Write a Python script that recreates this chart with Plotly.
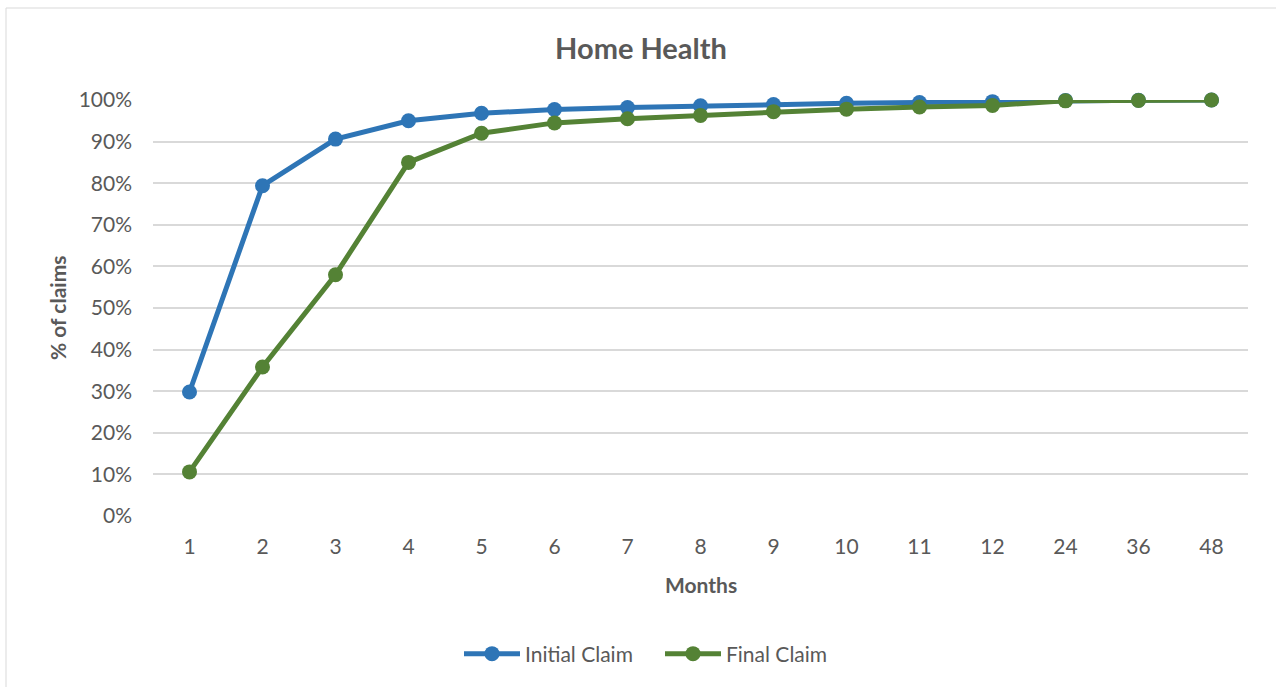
import plotly.graph_objects as go

# Months since service, shown as evenly spaced categories
months = ["1", "2", "3", "4", "5", "6", "7", "8", "9", "10", "11", "12", "24", "36", "48"]

# Cumulative share of claims processed (fraction of 1)
initial_claim = [0.298, 0.794, 0.906, 0.950, 0.968, 0.977, 0.982, 0.986, 0.989,
                 0.992, 0.994, 0.996, 0.999, 0.9995, 1.000]
final_claim = [0.106, 0.358, 0.580, 0.850, 0.920, 0.945, 0.955, 0.963, 0.972,
               0.978, 0.983, 0.987, 0.998, 0.999, 1.000]

y_ticks = [i / 10 for i in range(11)]
y_tick_text = [f"{i * 10}%" for i in range(11)]

W, H = 1276, 687
L, R, T, B = 153, 28, 100, 171
PW, PH = W - L - R, H - T - B

FONT = "Lato"
GREY = "#595959"
TICK_SIZE = 21

fig = go.Figure()
fig.add_trace(go.Scatter(
    x=months, y=initial_claim, name="Initial Claim", mode="lines+markers",
    line=dict(color="#2E75B6", width=5), marker=dict(size=15, color="#2E75B6"),
    cliponaxis=False,
))
fig.add_trace(go.Scatter(
    x=months, y=final_claim, name="Final Claim", mode="lines+markers",
    line=dict(color="#548235", width=5), marker=dict(size=15, color="#548235"),
    cliponaxis=False,
))

fig.update_layout(
    width=W, height=H,
    margin=dict(l=L, r=R, t=T, b=B),
    paper_bgcolor="white", plot_bgcolor="white",
    font=dict(family=FONT, color=GREY, size=TICK_SIZE),
    title=dict(text="<b>Home Health</b>", x=641 / W, xanchor="center",
               y=1 - 49 / H, yanchor="middle", yref="container",
               font=dict(size=29, color=GREY, family=FONT)),
    xaxis=dict(type="category", range=[-0.5, len(months) - 0.5],
               showgrid=False, zeroline=False, showline=False,
               tickfont=dict(size=TICK_SIZE, color=GREY), ticklabelstandoff=16),
    yaxis=dict(range=[0, 1], tickvals=y_ticks, ticktext=y_tick_text,
               showgrid=True, gridcolor="#D9D9D9", gridwidth=1.5,
               zeroline=False, showline=False,
               tickfont=dict(size=TICK_SIZE, color=GREY), ticklabelstandoff=20),
    legend=dict(orientation="h", x=(660 - L) / PW, xanchor="center", xref="paper",
                y=(H - B - 654) / PH, yanchor="middle",
                font=dict(size=TICK_SIZE, color=GREY), itemwidth=56,
                entrywidth=130, entrywidthmode="pixels",
                traceorder="normal"),
    showlegend=True,
)

# Axis titles
fig.add_annotation(text="<b>% of claims</b>", textangle=-90,
                   x=(57 - L) / PW, xref="paper", xanchor="center",
                   y=0.5, yref="paper", yanchor="middle",
                   showarrow=False, font=dict(size=21, color=GREY, family=FONT))
fig.add_annotation(text="<b>Months</b>",
                   x=(701 - L) / PW, xref="paper", xanchor="center",
                   y=(H - B - 584) / PH, yref="paper", yanchor="middle",
                   showarrow=False, font=dict(size=21, color=GREY, family=FONT))

# Chart-area border
fig.add_shape(type="rect", xref="paper", yref="paper",
              x0=(6 - L) / PW, x1=(W + 20 - L) / PW,
              y0=(H - B - (H + 20)) / PH, y1=(H - B - 8) / PH,
              line=dict(color="#D9D9D9", width=1), fillcolor="rgba(0,0,0,0)",
              layer="below")

fig.write_html("out.html")
